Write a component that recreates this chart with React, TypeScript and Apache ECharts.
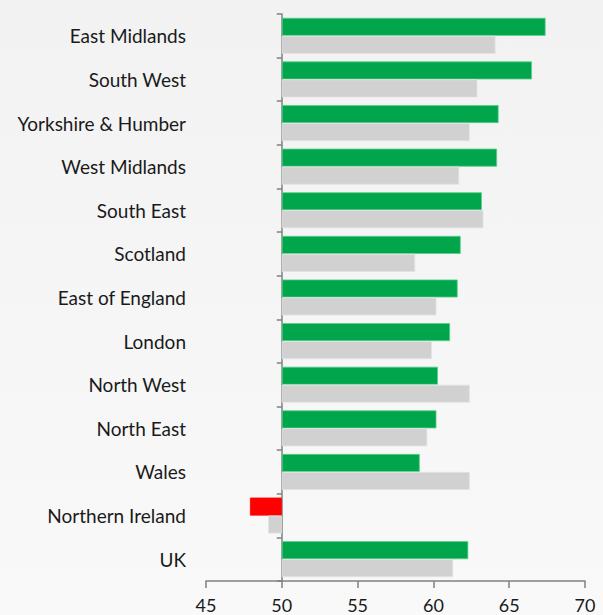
import React, { useEffect, useRef } from "react";
import * as echarts from "echarts";

const regions = [
  "East Midlands",
  "South West",
  "Yorkshire & Humber",
  "West Midlands",
  "South East",
  "Scotland",
  "East of England",
  "London",
  "North West",
  "North East",
  "Wales",
  "Northern Ireland",
  "UK",
];
const current = [67.4, 66.5, 64.3, 64.2, 63.2, 61.8, 61.6, 61.1, 60.3, 60.2, 59.1, 47.9, 62.3];
const previous = [64.1, 62.9, 62.4, 61.7, 63.3, 58.8, 60.2, 59.9, 62.4, 59.6, 62.4, 49.1, 61.3];
const baseline = 50;
const xTicks = { min: 45, max: 70, step: 5 };

export default function App() {
  const ref = useRef<HTMLDivElement>(null);
  useEffect(() => {
    document.body.style.margin = "0";
    const chart = echarts.init(ref.current!, undefined, { renderer: "svg" });
    const font = "Lato";
    chart.setOption({
      animation: false,
      backgroundColor: {
        type: "linear",
        x: 0,
        y: 0,
        x2: 0,
        y2: 1,
        colorStops: [
          { offset: 0, color: "#f2f2f2" },
          { offset: 1, color: "#f9f9f9" },
        ],
      },
      grid: {
        left: 206,
        right: 18,
        top: 14,
        bottom: 34,
        containLabel: false,
        outerBoundsMode: "none",
      },
      xAxis: {
        type: "value",
        min: xTicks.min - baseline,
        max: xTicks.max - baseline,
        interval: xTicks.step,
        axisLine: { show: true, lineStyle: { color: "#808080", width: 1.5 } },
        axisTick: { show: true, length: 7, lineStyle: { color: "#808080", width: 1.5 } },
        splitLine: { show: false },
        axisLabel: {
          formatter: (v: number) => String(v + baseline),
          color: "#1a1a1a",
          fontSize: 18,
          fontFamily: font,
          margin: 15,
        },
      },
      yAxis: {
        type: "category",
        data: regions,
        inverse: true,
        axisLine: { show: true, onZero: true, lineStyle: { color: "#808080", width: 1.5 } },
        axisTick: { show: true, length: 5, lineStyle: { color: "#808080", width: 1.5 } },
        axisLabel: {
          color: "#1a1a1a",
          fontSize: 19,
          fontFamily: font,
          margin: 20,
          padding: [0, 0, 5, 0],
        },
      },
      series: [
        {
          type: "bar",
          name: "current",
          barWidth: 18,
          barGap: "0%",
          data: current.map((v) => ({
            value: v - baseline,
            itemStyle:
              v < baseline
                ? { color: "#ff0000", borderColor: "#ff0000" }
                : undefined,
          })),
          itemStyle: { color: "#00a54c", borderColor: "#5ccf8a", borderWidth: 0.8 },
        },
        {
          type: "bar",
          name: "previous",
          barWidth: 18,
          barGap: "0%",
          data: previous.map((v) => v - baseline),
          itemStyle: { color: "#d1d1d1", borderColor: "#e3e3e3", borderWidth: 0.8 },
        },
      ],
    });
    return () => chart.dispose();
  }, []);
  return <div ref={ref} style={{ width: 603, height: 615 }} />;
}
